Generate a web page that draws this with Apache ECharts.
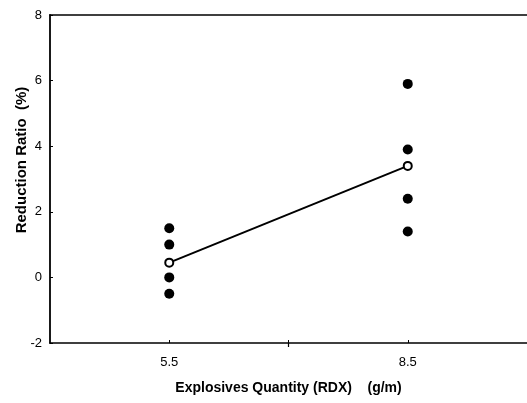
<!DOCTYPE html>
<html>
<head>
<meta charset="utf-8">
<script src="https://cdn.jsdelivr.net/npm/echarts@6/dist/echarts.min.js"></script>
<style>
  html, body { margin: 0; padding: 0; background: #fff; }
  #chart { width: 527px; height: 403px; }
</style>
</head>
<body>
<div id="chart"></div>
<script>
// Explosive charge levels (g/m of RDX)
const charges = [5.5, 8.5];
// Individual reduction ratios (%) measured at each charge
const ratiosAt55 = [1.5, 1.0, 0.0, -0.5];
const ratiosAt85 = [5.9, 3.9, 2.4, 1.4];
// Mean reduction ratio (%) per charge
const meanRatios = [0.45, 3.4];
// Axis tick labels
const xTickLabels = [5.5, 8.5];
const yTicks = [-2, 0, 2, 4, 6, 8];

const individual = [];
[ratiosAt55, ratiosAt85].forEach((vals, i) => {
  vals.forEach(v => individual.push([charges[i], v]));
});
const meanPoints = charges.map((c, i) => [c, meanRatios[i]]);

const font = 'Liberation Sans, Arial, sans-serif';
const chart = echarts.init(document.getElementById('chart'), null, { renderer: 'canvas' });

chart.setOption({
  animation: false,
  backgroundColor: '#fff',
  grid: { left: 50, top: 15, right: -3, bottom: 60, containLabel: false },
  xAxis: [
    {
      type: 'value', min: 4, max: 10, position: 'bottom',
      name: 'Explosives Quantity (RDX)    (g/m)',
      nameLocation: 'middle', nameGap: 38,
      nameTextStyle: { fontFamily: font, fontWeight: 'bold', fontSize: 14, color: '#000' },
      axisLine: { onZero: false, lineStyle: { color: '#000', width: 1.5 } },
      axisTick: { inside: true, length: 3, customValues: [5.5, 7, 8.5], lineStyle: { color: '#000', width: 1 } },
      axisLabel: { customValues: xTickLabels, margin: 13, fontFamily: font, fontSize: 13, color: '#000' },
      splitLine: { show: false }
    },
    {
      type: 'value', min: 4, max: 10, position: 'bottom',
      axisLine: { show: false, onZero: false },
      axisTick: { inside: false, length: 4, customValues: [7], lineStyle: { color: '#000', width: 1.2 } },
      axisLabel: { show: false },
      splitLine: { show: false }
    },
    {
      type: 'value', min: 4, max: 10, position: 'top',
      axisLine: { onZero: false, lineStyle: { color: '#000', width: 1.5 } },
      axisTick: { show: false },
      axisLabel: { show: false },
      splitLine: { show: false }
    }
  ],
  yAxis: {
    type: 'value', min: -2, max: 8, interval: 2,
    axisLine: { onZero: false, lineStyle: { color: '#000', width: 1.8 } },
    axisTick: { inside: true, length: 3, lineStyle: { color: '#000', width: 1 } },
    axisLabel: {
      margin: 8, fontFamily: font, fontSize: 13, color: '#000',
      customValues: yTicks
    },
    splitLine: { show: false }
  },
  graphic: [{
    type: 'text',
    x: 22, y: 160,
    rotation: Math.PI / 2,
    style: {
      text: 'Reduction Ratio  (%)',
      fontFamily: font, fontWeight: 'bold', fontSize: 15, fill: '#000',
      align: 'center', verticalAlign: 'middle'
    }
  }],
  series: [
    {
      type: 'scatter',
      data: individual,
      symbol: 'circle', symbolSize: 10,
      itemStyle: { color: '#000', opacity: 1 },
      z: 3
    },
    {
      type: 'line',
      data: meanPoints,
      symbol: 'circle', symbolSize: 8,
      lineStyle: { color: '#000', width: 2 },
      itemStyle: { color: '#fff', borderColor: '#000', borderWidth: 2, opacity: 1 },
      z: 4
    }
  ]
});
</script>
</body>
</html>
